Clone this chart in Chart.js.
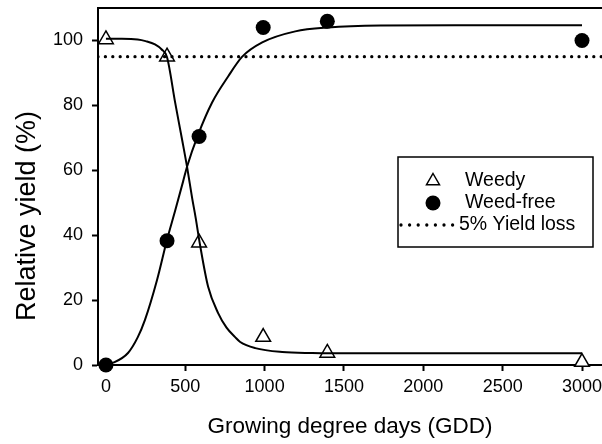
<!DOCTYPE html>
<html>
<head>
<meta charset="utf-8">
<script src="https://cdn.jsdelivr.net/npm/chart.js@4.4.1/dist/chart.umd.min.js"></script>
<style>
  html, body { margin: 0; padding: 0; background: #fff; }
  #wrap { width: 602px; height: 444px; }
</style>
</head>
<body>
<div id="wrap"><canvas id="myChart" width="602" height="444"></canvas></div>
<script>
// observed points
const gdd = [0, 385, 587, 991, 1395, 3000];
const weedy = [100.3, 95, 37.7, 8.6, 3.7, 0.9];
const weedFree = [0, 38.3, 70.4, 104, 105.9, 100];

// fitted curves
const weedyCurveX = [0, 100, 200, 250, 309, 350, 385, 436, 480, 511, 543, 565, 593, 644, 707, 760, 814, 846, 941, 1111, 1300, 1600, 2000, 3000];
const weedyCurveY = [100.5, 100.5, 100.3, 99.8, 98.8, 97.3, 94.8, 80.9, 69.4, 61.1, 51.5, 45.5, 37.0, 24.1, 16.0, 11.5, 8.6, 7.1, 5.2, 4.0, 3.7, 3.6, 3.6, 3.6];
const freeCurveX = [0, 50, 139, 200, 246, 322, 385, 436, 486, 511, 581, 669, 770, 859, 985, 1193, 1400, 1730, 2200, 3000];
const freeCurveY = [0.3, 0.8, 3.7, 8.5, 13.9, 26.2, 38.6, 47.5, 56.5, 61.1, 71.0, 80.9, 88.9, 95.0, 99.4, 102.8, 104.0, 104.6, 104.7, 104.7];

const yieldLoss = 95;
const xMin = -50, xMax = 3126;
const yMin = 0, yMax = 110;
const xTicks = [0, 500, 1000, 1500, 2000, 2500, 3000];
const yTicks = [0, 20, 40, 60, 80, 100];

const font = '"Liberation Sans", Arial, sans-serif';

const pts = (xs, ys) => xs.map((x, i) => ({ x: x, y: ys[i] }));

const noPad = (s) => { s.paddingTop = 0; s.paddingBottom = 0; s.paddingLeft = 0; s.paddingRight = 0; };

// frame top, y title and the boxed legend inside the plot
const boxLegend = {
    id: 'boxLegend',
    afterDraw(chart) {
        const ctx = chart.ctx;
        const area = chart.chartArea;
        ctx.save();
        ctx.strokeStyle = '#000';
        ctx.lineWidth = 2;
        ctx.beginPath();
        ctx.moveTo(area.left - 1, area.top);
        ctx.lineTo(area.right, area.top);
        ctx.stroke();

        // y axis title
        ctx.save();
        ctx.translate(28, 216);
        ctx.rotate(-Math.PI / 2);
        ctx.fillStyle = '#000';
        ctx.font = '27px ' + font;
        ctx.textAlign = 'center';
        ctx.textBaseline = 'middle';
        ctx.fillText('Relative yield (%)', 0, 0);
        ctx.restore();

        const bx = 398, by = 157, bw = 195, bh = 90;
        ctx.lineWidth = 1.5;
        ctx.strokeRect(bx, by, bw, bh);

        const rows = [181, 203, 225];
        const sx = 433;
        // triangle
        ctx.fillStyle = '#fff';
        ctx.lineWidth = 1.5;
        const r = 7.5;
        ctx.beginPath();
        ctx.moveTo(sx, rows[0] - r);
        ctx.lineTo(sx + r * 0.866, rows[0] + r * 0.5);
        ctx.lineTo(sx - r * 0.866, rows[0] + r * 0.5);
        ctx.closePath();
        ctx.fill();
        ctx.stroke();
        // circle
        ctx.fillStyle = '#000';
        ctx.beginPath();
        ctx.arc(sx, rows[1], 7.5, 0, Math.PI * 2);
        ctx.fill();
        // dotted
        ctx.lineWidth = 3.3;
        ctx.lineCap = 'round';
        ctx.setLineDash([0, 8.6]);
        ctx.beginPath();
        ctx.moveTo(401, rows[2]);
        ctx.lineTo(453, rows[2]);
        ctx.stroke();
        ctx.setLineDash([]);

        ctx.fillStyle = '#000';
        ctx.font = '19.5px ' + font;
        ctx.textBaseline = 'middle';
        ctx.textAlign = 'left';
        ctx.fillText('Weedy', 465, rows[0]);
        ctx.fillText('Weed-free', 465, rows[1]);
        ctx.fillText('5% Yield loss', 459, rows[2]);
        ctx.restore();
    }
};

const data = {
    datasets: [
        {
            label: 'Weedy fit',
            data: pts(weedyCurveX, weedyCurveY),
            borderColor: '#000',
            borderWidth: 2,
            pointRadius: 0,
            cubicInterpolationMode: 'monotone',
            fill: false
        },
        {
            label: 'Weed-free fit',
            data: pts(freeCurveX, freeCurveY),
            borderColor: '#000',
            borderWidth: 2,
            pointRadius: 0,
            cubicInterpolationMode: 'monotone',
            fill: false
        },
        {
            label: '5% Yield loss',
            data: [{ x: xMin, y: yieldLoss }, { x: xMax, y: yieldLoss }],
            borderColor: '#000',
            borderWidth: 3.3,
            borderDash: [0, 7.4],
            borderCapStyle: 'round',
            pointRadius: 0,
            fill: false
        },
        {
            label: 'Weed-free',
            data: pts(gdd, weedFree),
            showLine: false,
            pointStyle: 'circle',
            pointRadius: 7.5,
            backgroundColor: '#000',
            borderColor: '#000',
            borderWidth: 0,
            clip: false
        },
        {
            label: 'Weedy',
            data: pts(gdd, weedy),
            showLine: false,
            pointStyle: 'triangle',
            pointRadius: 8.5,
            backgroundColor: '#fff',
            borderColor: '#000',
            borderWidth: 1.5,
            clip: false
        }
    ]
};

const options = {
    responsive: false,
    animation: false,
    layout: { autoPadding: false, padding: { top: 8, right: 0, left: 0, bottom: 0 } },
    scales: {
        x: {
            type: 'linear',
            min: xMin,
            max: xMax,
            afterBuildTicks: (s) => { s.ticks = xTicks.map(v => ({ value: v })); },
            afterFit: (s) => { s.height = 79; noPad(s); },
            grid: { display: true, drawOnChartArea: false, drawTicks: true, tickLength: 6, tickWidth: 2, color: '#000' },
            border: { display: true, color: '#000', width: 2 },
            ticks: { color: '#000', padding: 5, maxRotation: 0, callback: (v) => String(v), font: { family: font, size: 18 } },
            title: {
                display: true,
                text: 'Growing degree days (GDD)',
                color: '#000',
                padding: { top: 0, bottom: 4 },
                font: { family: font, size: 22.5 }
            }
        },
        y: {
            min: yMin,
            max: yMax,
            afterBuildTicks: (s) => { s.ticks = yTicks.map(v => ({ value: v })); },
            afterFit: (s) => { s.width = 98; noPad(s); },
            grid: { display: true, drawOnChartArea: false, drawTicks: true, tickLength: 6, tickWidth: 2, color: '#000' },
            border: { display: true, color: '#000', width: 2 },
            ticks: { color: '#000', padding: 9, callback: (v) => String(v), font: { family: font, size: 18 } },
            title: { display: false }
        }
    },
    plugins: {
        legend: { display: false },
        tooltip: { enabled: false }
    }
};

const canvas = document.getElementById('myChart');
const ctx = canvas.getContext('2d');

const myChart = new Chart(ctx, {
    type: 'line',
    data: data,
    options: options,
    plugins: [boxLegend]
});
</script>
</body>
</html>
